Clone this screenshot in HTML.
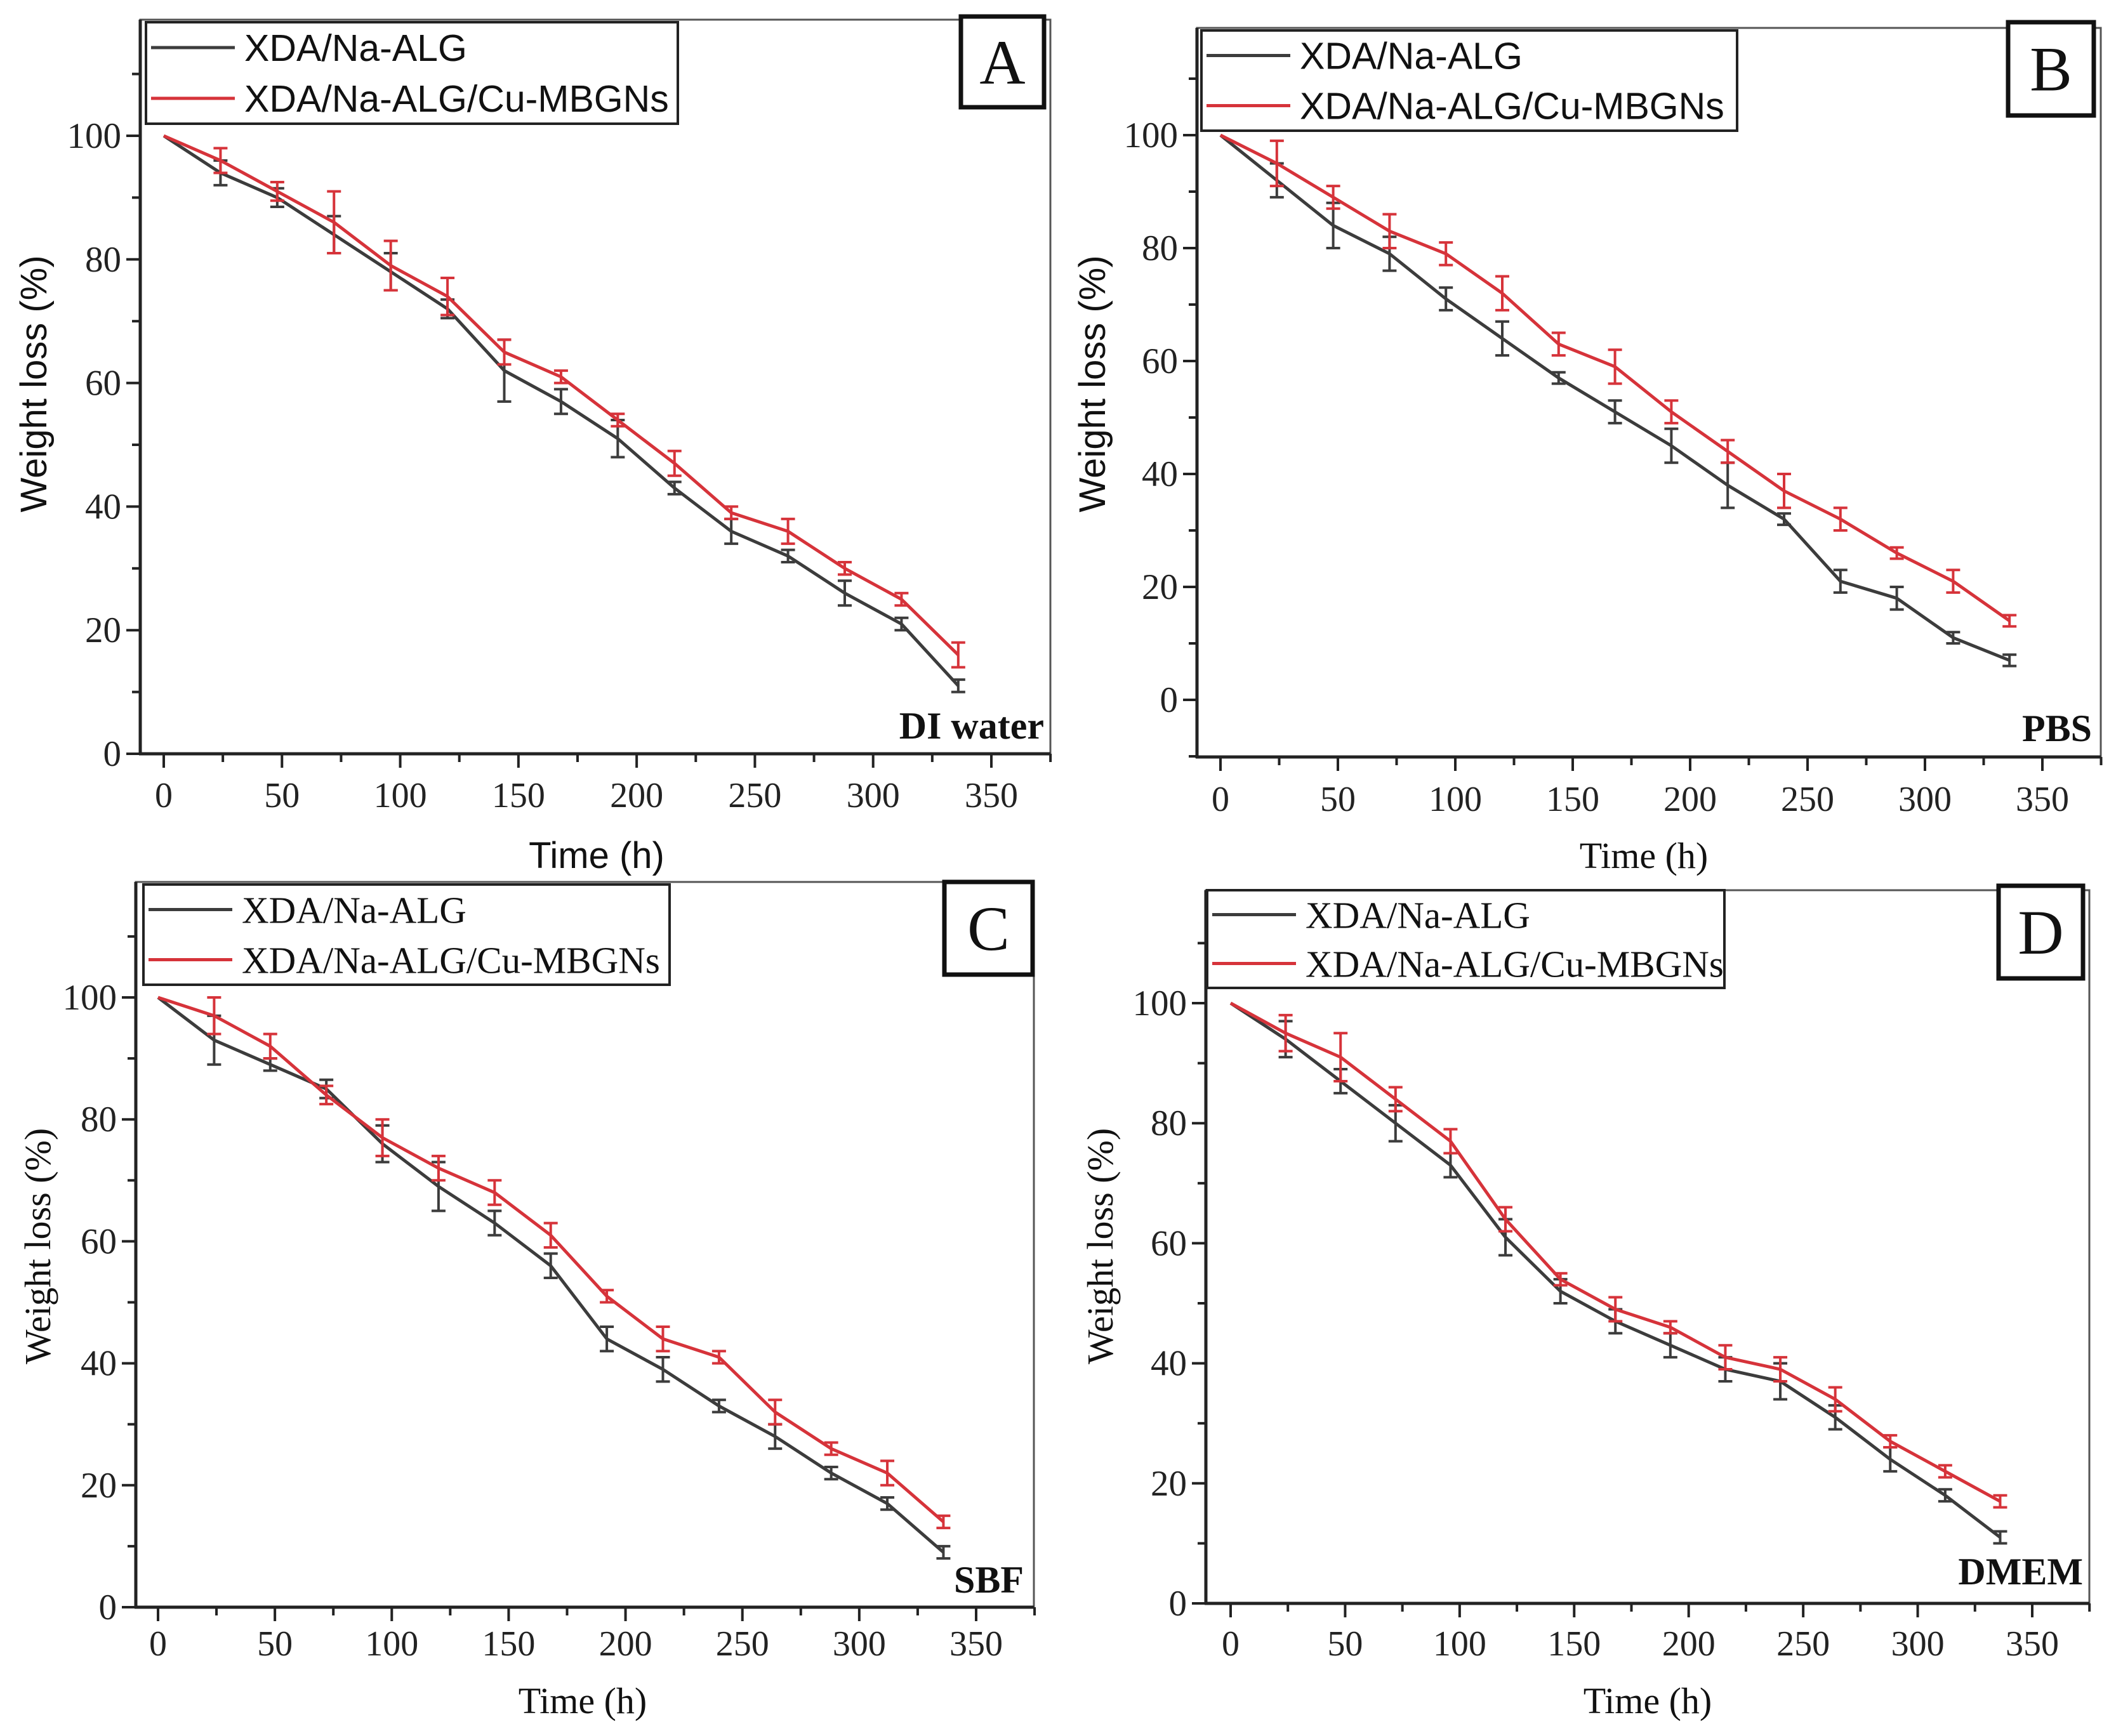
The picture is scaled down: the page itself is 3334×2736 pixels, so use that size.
<!DOCTYPE html>
<html><head><meta charset="utf-8"><style>
html,body{margin:0;padding:0;background:#fff;}
svg{display:block;}
</style></head><body>
<svg id="fig" width="3334" height="2736" viewBox="0 0 3334 2736" xmlns="http://www.w3.org/2000/svg"></svg>
<script>
const times = [0,24,48,72,96,120,144,168,192,216,240,264,288,312,336];
const xTicks = [0,50,100,150,200,250,300,350];
const yTicksAC = [0,20,40,60,80,100];
const seriesNames = ["XDA/Na-ALG","XDA/Na-ALG/Cu-MBGNs"];
const aBlack = [100,94,90,84,78,72,62,57,51,43,36,32,26,21,11];
const aBlackErr = [0,2,1.5,3,3,1.5,5,2,3,1,2,1,2,1,1];
const aRed = [100,96,91,86,79,74,65,61,54,47,39,36,30,25,16];
const aRedErr = [0,2,1.5,5,4,3,2,1,1,2,1,2,1,1,2];
const bBlack = [100,92,84,79,71,64,57,51,45,38,32,21,18,11,7];
const bBlackErr = [0,3,4,3,2,3,1,2,3,4,1,2,2,1,1];
const bRed = [100,95,89,83,79,72,63,59,51,44,37,32,26,21,14];
const bRedErr = [0,4,2,3,2,3,2,3,2,2,3,2,1,2,1];
const cBlack = [100,93,89,85,76,69,63,56,44,39,33,28,22,17,9];
const cBlackErr = [0,4,1,1.5,3,4,2,2,2,2,1,2,1,1,1];
const cRed = [100,97,92,84,77,72,68,61,51,44,41,32,26,22,14];
const cRedErr = [0,3,2,1.5,3,2,2,2,1,2,1,2,1,2,1];
const dBlack = [100,94,87,80,73,61,52,47,43,39,37,31,24,18,11];
const dBlackErr = [0,3,2,3,2,3,2,2,2,2,3,2,2,1,1];
const dRed = [100,95,91,84,77,64,54,49,46,41,39,34,27,22,17];
const dRedErr = [0,3,4,2,2,2,1,2,1,2,2,2,1,1,1];

const NS="http://www.w3.org/2000/svg";
const svg=document.getElementById('fig');
const SERIF='"Liberation Serif", serif', SANS='"Liberation Sans", sans-serif';
function mk(tag,attrs,parent){const e=document.createElementNS(NS,tag);for(const k in attrs)e.setAttribute(k,attrs[k]);(parent||svg).appendChild(e);return e;}

const panels=[
 {id:'a',letter:'A',medium:'DI water',L:221,R:1655,T:31,B:1188,x0:258,x350:1562,y0:1188,y100:214,ymin:0,
  leg:[230,35,1068,195],box:[1514,26,1645,169],medX:1645,medY:1164,tickY:1272,titleY:1368,titleX:940,ylabX:53,ylabY:605,
  yTicks:yTicksAC,tickFont:SERIF,legFont:SANS,ylabFont:SANS,titleFont:SANS,data:[aBlack,aRed],err:[aBlackErr,aRedErr]},
 {id:'b',letter:'B',medium:'PBS',L:1886,R:3310,T:44,B:1193,x0:1923,x350:3218,y0:1103,y100:213,ymin:-10,
  leg:[1893,48,2737,206],box:[3164,35,3299,182],medX:3296,medY:1168,tickY:1278,titleY:1368,titleX:2590,ylabX:1721,ylabY:605,
  yTicks:yTicksAC,tickFont:SERIF,legFont:SANS,ylabFont:SANS,titleFont:SERIF,data:[bBlack,bRed],err:[bBlackErr,bRedErr]},
 {id:'c',letter:'C',medium:'SBF',L:214,R:1629,T:1390,B:2533,x0:249,x350:1538,y0:2533,y100:1572,ymin:0,
  leg:[226,1394,1055,1552],box:[1488,1390,1627,1536],medX:1613,medY:2510,tickY:2609,titleY:2700,titleX:918,ylabX:59,ylabY:1964,
  yTicks:yTicksAC,tickFont:SERIF,legFont:SERIF,ylabFont:SERIF,titleFont:SERIF,data:[cBlack,cRed],err:[cBlackErr,cRedErr]},
 {id:'d',letter:'D',medium:'DMEM',L:1900,R:3292,T:1403,B:2527,x0:1939,x350:3202,y0:2527,y100:1581,ymin:0,
  leg:[1902,1403,2717,1557],box:[3149,1396,3282,1542],medX:3282,medY:2497,tickY:2609,titleY:2700,titleX:2596,ylabX:1733,ylabY:1964,
  yTicks:yTicksAC,tickFont:SERIF,legFont:SERIF,ylabFont:SERIF,titleFont:SERIF,data:[dBlack,dRed],err:[dBlackErr,dRedErr]}
];
const colors=['#3c3c3c','#d6333a'];

panels.forEach(p=>{
  const g=mk('g',{});
  
  
  const X=v=>p.x0+(v/350)*(p.x350-p.x0);
  const Y=v=>p.y0-(v/100)*(p.y0-p.y100);
  const fr=mk('path',{d:`M${p.L},${p.B} L${p.L},${p.T} L${p.R},${p.T} L${p.R},${p.B}`,fill:'none',stroke:'#555',"stroke-width":3},g);
  
  
  const ya=mk('line',{x1:p.L,y1:p.T,x2:p.L,y2:p.B+2,stroke:'#222',"stroke-width":5},g);
  
  
  const xa=mk('line',{x1:p.L-2,y1:p.B,x2:p.R,y2:p.B,stroke:'#222',"stroke-width":5},g);
  
  
  for(let v=0;v<=375;v+=25){
    const major=v%50===0;
    mk('line',{x1:X(v),y1:p.B,x2:X(v),y2:p.B+(major?22:13),stroke:'#222',"stroke-width":4},g);
  }
  xTicks.forEach(v=>{
    const t=mk('text',{x:X(v),y:p.tickY,"text-anchor":"middle","font-family":p.tickFont,"font-size":56,fill:'#222'},g);
    t.textContent=v;
    
    
  });
  for(let v=p.ymin;v<=115;v+=10){
    const major=v%20===0;
    mk('line',{x1:p.L,y1:Y(v),x2:p.L-(major?22:13),y2:Y(v),stroke:'#222',"stroke-width":4},g);
  }
  p.yTicks.forEach(v=>{
    const t=mk('text',{x:p.L-30,y:Y(v)+19,"text-anchor":"end","font-family":p.tickFont,"font-size":57,fill:'#222'},g);
    t.textContent=v;
    
    
  });
  const xt=mk('text',{x:p.titleX,y:p.titleY,"text-anchor":"middle","font-family":p.titleFont,"font-size":58,fill:'#111'},g);
  xt.textContent='Time (h)';
  
  
  const yt=mk('text',{x:0,y:0,"text-anchor":"middle","font-family":p.ylabFont,"font-size":58,fill:'#111',transform:`translate(${p.ylabX+20},${p.ylabY}) rotate(-90)`},g);
  yt.textContent='Weight loss (%)';
  
  
  p.data.forEach((vals,si)=>{
    const pts=times.map((t,i)=>X(t)+','+Y(vals[i])).join(' ');
    const ln=mk('polyline',{points:pts,fill:'none',stroke:colors[si],"stroke-width":5,"stroke-linejoin":"round"},g);
    
    
    times.forEach((t,i)=>{
      const e=p.err[si][i]; if(!e) return;
      const x=X(t),y1=Y(vals[i]+e),y2=Y(vals[i]-e);
      const eb=mk('path',{d:`M${x},${y1} L${x},${y2} M${x-11},${y1} L${x+11},${y1} M${x-11},${y2} L${x+11},${y2}`,stroke:colors[si],"stroke-width":4,fill:'none'},g);
      
      
    });
  });
  const [lx1,ly1,lx2,ly2]=p.leg;
  const lg=mk('g',{},g);
  
  
  mk('rect',{x:lx1,y:ly1,width:lx2-lx1,height:ly2-ly1,fill:'#fff',stroke:'#222',"stroke-width":4},lg);
  const rowH=(ly2-ly1)/2;
  seriesNames.forEach((n,si)=>{
    const cy=ly1+rowH*(si+0.5);
    const e=mk('g',{},lg);
    
    
    mk('line',{x1:lx1+8,y1:cy,x2:lx1+140,y2:cy,stroke:colors[si],"stroke-width":5},e);
    const t=mk('text',{x:lx1+155,y:cy+21,"font-family":p.legFont,"font-size":59,fill:'#111'},e);
    t.textContent=n;
  });
  const [bx1,by1,bx2,by2]=p.box;
  const lb=mk('g',{},g);
  
  
  mk('rect',{x:bx1,y:by1,width:bx2-bx1,height:by2-by1,fill:'#fff',stroke:'#111',"stroke-width":7},lb);
  const lt=mk('text',{x:(bx1+bx2)/2,y:(by1+by2)/2+34,"text-anchor":"middle","font-family":SERIF,"font-size":100,fill:'#111'},lb);
  lt.textContent=p.letter;
  const md=mk('text',{x:p.medX,y:p.medY,"text-anchor":"end","font-family":SERIF,"font-size":60,"font-weight":"bold",fill:'#111'},g);
  md.textContent=p.medium;
  
  
});
</script>
</body></html>
